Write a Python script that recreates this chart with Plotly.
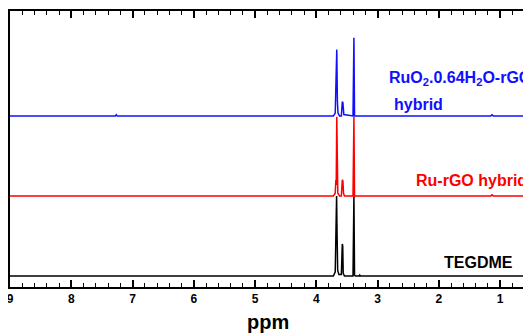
import plotly.graph_objects as go

# Spectra: chemical shift (ppm) and intensity (arbitrary units)
tegdme_ppm = [9.00, 3.72, 3.69, 3.675, 3.668, 3.660, 3.650, 3.63, 3.59, 3.575, 3.568, 3.560, 3.54,
              3.40, 3.385, 3.375, 3.36, 3.30, 3.29, 3.28, 0.40]
tegdme_int = [0, 0, 1.5, 16.7, 29.0, 15.0, 2.0, 0.5, 0.5, 11.6, 11.0, 1.0, 0,
              0, 29.0, 0.3, 0, 0, 0.3, 0, 0]

ru_ppm = [9.00, 3.72, 3.69, 3.680, 3.674, 3.665, 3.655, 3.648, 3.62, 3.59, 3.575, 3.565, 3.555, 3.54,
          3.40, 3.385, 3.375, 3.36, 1.15, 1.13, 1.11, 0.40]
ru_int = [0, 0, 1.0, 5.8, 4.0, 28.7, 5.5, 1.0, 0, 0, 5.8, 5.5, 1.0, 0,
          0, 28.7, 0, 0, 0, 0.4, 0, 0]

ruo2_ppm = [9.00, 7.28, 7.265, 7.25, 3.72, 3.69, 3.675, 3.665, 3.655, 3.645, 3.62, 3.59, 3.575, 3.565, 3.55,
            3.40, 3.385, 3.375, 3.36, 1.15, 1.13, 1.11, 0.40]
ruo2_int = [0, 0, 0.4, 0, 0, 1.0, 15.0, 24.0, 5.4, 1.0, 0, 0, 5.1, 4.8, 0.5,
            0, 28.3, 0, 0, 0, 0.4, 0, 0]

offsets = [0, 29, 58]
series_names = ["TEGDME", "Ru-rGO hybrid", "RuO2.0.64H2O-rGO hybrid"]
colors = ["#000000", "#ff0000", "#1010ff"]
x_ticks = [9, 8, 7, 6, 5, 4, 3, 2, 1]

fig = go.Figure()
for xs, ys, off, name, col in zip([tegdme_ppm, ru_ppm, ruo2_ppm],
                                  [tegdme_int, ru_int, ruo2_int],
                                  offsets, series_names, colors):
    fig.add_trace(go.Scatter(x=xs, y=[v + off for v in ys], mode="lines",
                             line=dict(color=col, width=1.5), name=name,
                             showlegend=False, hoverinfo="skip"))

font_fam = "Arial, Liberation Sans, sans-serif"

# page body has an 8px default margin; compensate
fig.update_layout(
    width=523, height=328,
    margin=dict(l=2, r=0, t=3, b=49),
    paper_bgcolor="white", plot_bgcolor="white",
    font=dict(family=font_fam, color="black"),
    xaxis=dict(range=[9, 0.494], showgrid=False, zeroline=False,
               showline=True, linecolor="black", linewidth=2, mirror="allticks",
               ticks="inside", ticklen=7, tickwidth=1.6, tickcolor="black",
               tickvals=x_ticks, ticktext=[str(t) for t in x_ticks],
               ticklabeloverflow="allow",
               tickfont=dict(size=12, family=font_fam, color="black", weight="bold"),
               minor=dict(ticks="inside", dtick=0.2, tick0=0, ticklen=4, tickwidth=1.4,
                          tickcolor="black", showgrid=False)),
    yaxis=dict(range=[-4, 96], showgrid=False, zeroline=False, showticklabels=False,
               ticks="", showline=True, linecolor="black", linewidth=2, mirror=False),
)

ann_font = dict(family=font_fam, size=16, weight="bold")
fig.add_annotation(x=2.845, y=71.5, xref="x", yref="y", xanchor="left", yanchor="middle",
                   text="RuO<sub>2</sub>.0.64H<sub>2</sub>O-rGO", showarrow=False,
                   font=dict(**ann_font, color="#1010ff"))
fig.add_annotation(x=2.76, y=62.0, xref="x", yref="y", xanchor="left", yanchor="middle",
                   text="hybrid", showarrow=False, font=dict(**ann_font, color="#1010ff"))
fig.add_annotation(x=2.40, y=34.7, xref="x", yref="y", xanchor="left", yanchor="middle",
                   text="Ru-rGO hybrid", showarrow=False, font=dict(**ann_font, color="#ff0000"))
fig.add_annotation(x=1.947, y=5.0, xref="x", yref="y", xanchor="left", yanchor="middle",
                   text="TEGDME", showarrow=False, font=dict(**ann_font, color="black"))
fig.add_annotation(x=0.496, y=-0.128, xref="paper", yref="paper", xanchor="center", yanchor="middle",
                   text="ppm", showarrow=False,
                   font=dict(family=font_fam, size=20, weight="bold", color="black"))

fig.write_html("out.html")
